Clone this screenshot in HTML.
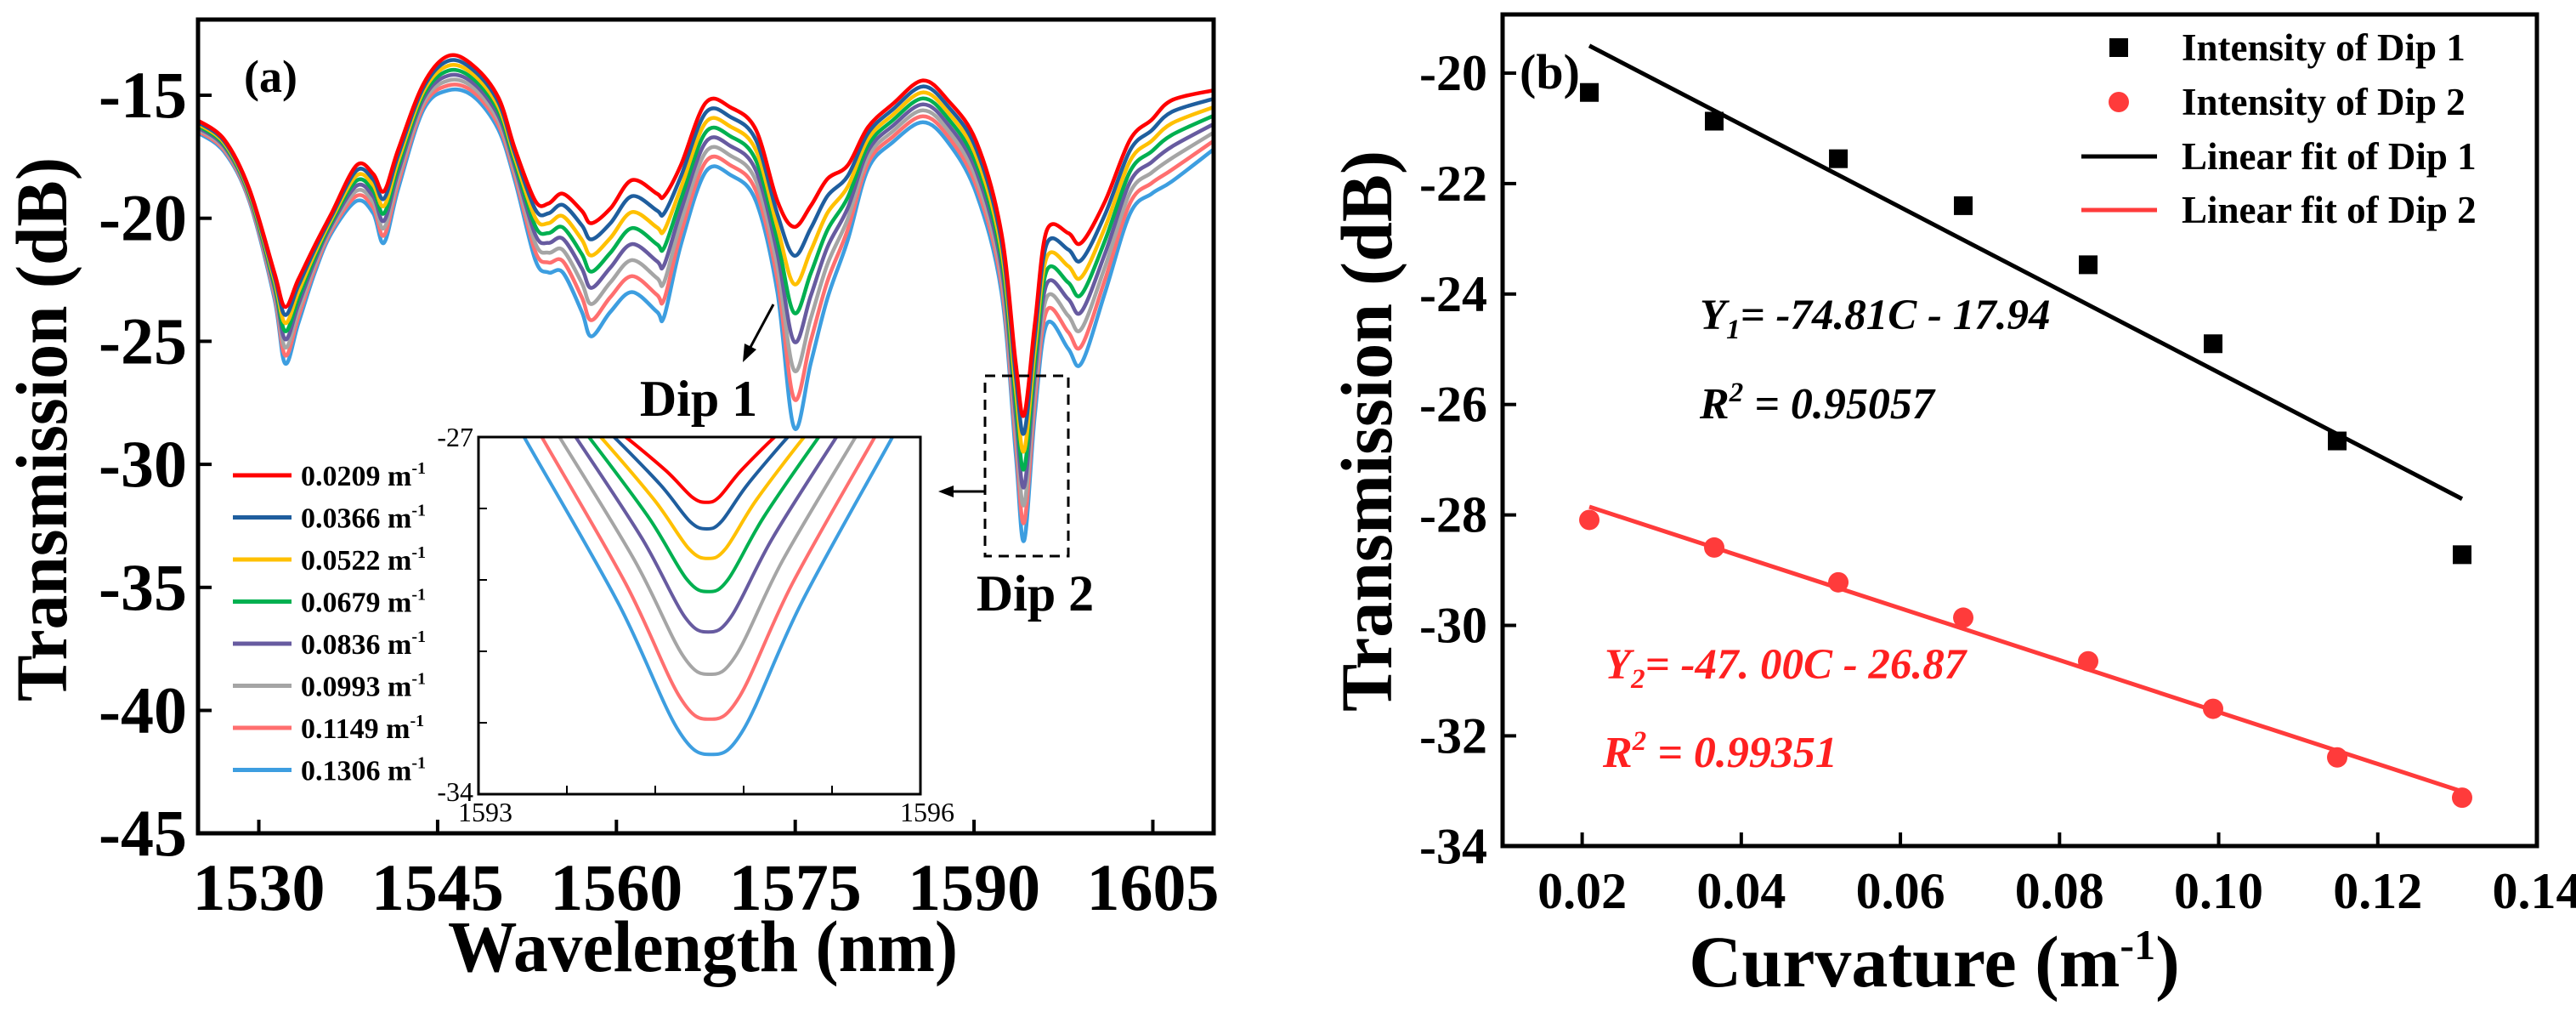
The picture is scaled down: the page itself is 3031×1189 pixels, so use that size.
<!DOCTYPE html>
<html><head><meta charset="utf-8"><title>Transmission spectra and curvature response</title>
<style>
html,body{margin:0;padding:0;background:#fff;}
svg{display:block;font-family:"Liberation Serif","DejaVu Serif",serif;}
</style></head>
<body>
<svg id="fig" width="3031" height="1189" viewBox="0 0 3031 1189" xmlns="http://www.w3.org/2000/svg">
<defs>
<clipPath id="clipA"><rect x="233" y="23" width="1195" height="957"/></clipPath>
<clipPath id="clipInset"><rect x="563" y="514" width="520" height="420"/></clipPath>
</defs>
<rect x="0" y="0" width="3031" height="1189" fill="#fff"/>
<g id="panelA"></g>
<g id="panelB"></g>
</svg>
<script>
// ---------- Panel (a) data ----------
const wavelengths = [1524.8,1527.1,1529.2,1531.3,1532.2,1533.3,1534.7,1536.1,1538.2,1539.6,1540.5,1541.7,1543.8,1545.9,1548.0,1550.1,1551.5,1553.2,1554.3,1555.5,1557.1,1557.9,1559.5,1561.3,1563.4,1564.0,1565.4,1567.5,1569.6,1571.7,1573.5,1574.9,1576.3,1577.7,1579.4,1581.1,1583.2,1585.7,1587.8,1590.2,1592.3,1593.5,1594.2,1595.1,1596.1,1597.9,1599.0,1601.0,1603.1,1604.9,1606.6,1610.1];
const spectrumLowest = [-16.0,-16.8,-18.8,-22.2,-23.6,-22.5,-21.1,-19.8,-17.85,-18.2,-18.9,-17.2,-14.55,-13.4,-13.8,-15.1,-17.2,-19.3,-19.4,-19.0,-19.7,-20.2,-19.6,-18.45,-19.0,-19.1,-17.85,-15.3,-15.5,-16.4,-19.3,-20.35,-19.5,-18.4,-17.85,-16.3,-15.35,-14.4,-15.2,-16.9,-20.6,-25.9,-28.0,-24.3,-20.5,-20.6,-21.0,-19.3,-16.8,-16.0,-15.2,-14.8];
const spectrumHighest = [-16.5,-17.3,-19.3,-23.25,-25.9,-24.3,-22.2,-20.6,-19.3,-19.8,-21.0,-18.8,-15.6,-14.8,-15.05,-16.4,-18.5,-21.7,-22.2,-22.2,-23.8,-24.8,-23.8,-23.0,-23.8,-24.0,-21.1,-18.1,-18.25,-19.3,-23.0,-28.5,-25.9,-23.25,-20.9,-18.0,-16.9,-16.1,-16.9,-19.0,-23.0,-29.6,-33.1,-28.0,-24.3,-25.3,-25.9,-23.0,-19.8,-19.0,-18.5,-17.2];
const curvatureLabels = ["0.0209","0.0366","0.0522","0.0679","0.0836","0.0993","0.1149","0.1306"];
const curvatures = [0.0209,0.0366,0.0522,0.0679,0.0836,0.0993,0.1149,0.1306];
const xTicksA = [1530,1545,1560,1575,1590,1605];
const yTicksA = [-15,-20,-25,-30,-35,-40,-45];
// inset data (dip 2 zoom)
const insetMin = [-28.28,-28.80,-29.38,-30.03,-30.82,-31.65,-32.53,-33.22];
const insetCenter = [1594.55,1594.55,1594.56,1594.56,1594.56,1594.57,1594.57,1594.58];
const insetLeftEdge = [1594.00,1593.92,1593.83,1593.75,1593.66,1593.55,1593.43,1593.31];
const insetRightEdge = [1595.01,1595.10,1595.21,1595.31,1595.43,1595.56,1595.69,1595.81];
// ---------- Panel (b) data ----------
const dip1 = [-20.35,-20.87,-21.55,-22.40,-23.47,-24.90,-26.66,-28.72];
const dip2 = [-28.09,-28.59,-29.22,-29.86,-30.65,-31.51,-32.39,-33.12];
const fit1 = [-74.81,-17.94];
const fit2 = [-47.00,-26.87];
const xTicksB = [0.02,0.04,0.06,0.08,0.10,0.12,0.14];
const yTicksB = [-20,-22,-24,-26,-28,-30,-32,-34];

const colors = ["#ff0000","#1f5e9e","#ffc000","#00b050","#675ba0","#a5a5a5","#ff6f6f","#3d9ee0"];
const NS="http://www.w3.org/2000/svg";
function mk(tag, attrs, parent, text){const e=document.createElementNS(NS,tag);for(const k in attrs)e.setAttribute(k,attrs[k]);if(text!==undefined)e.textContent=text;parent.appendChild(e);return e;}
function smooth(pts){let d="M"+pts[0][0].toFixed(1)+","+pts[0][1].toFixed(1);for(let i=0;i<pts.length-1;i++){const p0=pts[Math.max(0,i-1)],p1=pts[i],p2=pts[i+1],p3=pts[Math.min(pts.length-1,i+2)];const c1x=p1[0]+(p2[0]-p0[0])/6,c1y=p1[1]+(p2[1]-p0[1])/6,c2x=p2[0]-(p3[0]-p1[0])/6,c2y=p2[1]-(p3[1]-p1[1])/6;d+=" C"+c1x.toFixed(1)+","+c1y.toFixed(1)+" "+c2x.toFixed(1)+","+c2y.toFixed(1)+" "+p2[0].toFixed(1)+","+p2[1].toFixed(1);}return d;}

// ===== Panel A =====
const A=document.getElementById('panelA');
const axL=233,axR=1428,axT=23,axB=980;
const xA=w=>axL+(w-1524.9)/(1610.1-1524.9)*(axR-axL);
const yA=v=>112+(-15-v)/5*144.7;
const curvesG=mk('g',{'clip-path':'url(#clipA)'},A);


for(let s=curvatures.length-1;s>=0;s--){
  const f=(curvatures[s]-curvatures[0])/(curvatures[curvatures.length-1]-curvatures[0]);
  const pts=wavelengths.map((w,i)=>[xA(w),yA(spectrumLowest[i]+f*(spectrumHighest[i]-spectrumLowest[i]))]);
  const p=mk('path',{d:smooth(pts),fill:'none',stroke:colors[s],'stroke-width':4.5,'stroke-linejoin':'round'},curvesG);
  
  
}
const frameA=mk('rect',{x:axL,y:axT,width:axR-axL,height:axB-axT,fill:'none',stroke:'#000','stroke-width':5},A);


xTicksA.forEach(t=>{
  mk('line',{x1:xA(t),x2:xA(t),y1:axB,y2:axB-16,stroke:'#000','stroke-width':4},A);
  const tl=mk('text',{x:xA(t),y:1070,'font-size':78,'font-weight':'bold','text-anchor':'middle'},A,String(t));
  
  
});
yTicksA.forEach(t=>{
  mk('line',{x1:axL,x2:axL+16,y1:yA(t),y2:yA(t),stroke:'#000','stroke-width':4},A);
  const tl=mk('text',{x:220,y:yA(t)+26,'font-size':78,'font-weight':'bold','text-anchor':'end'},A,String(t));
  
  
});
const ytA=mk('text',{x:0,y:0,transform:'translate(78,505) rotate(-90)','font-size':86,'font-weight':'bold','text-anchor':'middle',textLength:640,lengthAdjust:'spacingAndGlyphs'},A,'Transmission (dB)');


const xtA=mk('text',{x:827,y:1142,'font-size':86,'font-weight':'bold','text-anchor':'middle',textLength:600,lengthAdjust:'spacingAndGlyphs'},A,'Wavelength (nm)');


const labA=mk('text',{x:287,y:108,'font-size':54,'font-weight':'bold'},A,'(a)');



// legend (a)
curvatureLabels.forEach((c,i)=>{
  const y=559+i*49.5;
  const g=mk('g',{},A);
  
  
  mk('line',{x1:274,x2:343,y1:y,y2:y,stroke:colors[i],'stroke-width':5},g);
  const t=mk('text',{x:354,y:y+12,'font-size':34,'font-weight':'bold'},g,c+' m');
  mk('tspan',{'font-size':20,dy:-14},t,'-1');
});

// Dip annotations
const arr1=mk('g',{},A);


mk('line',{x1:910,y1:358,x2:881,y2:412,stroke:'#000','stroke-width':3},arr1);
mk('polygon',{points:'874,426 876,404 890,411',fill:'#000'},arr1);
const d1=mk('text',{x:822,y:489,'font-size':60,'font-weight':'bold','text-anchor':'middle'},A,'Dip 1');


const d2=mk('text',{x:1218,y:718,'font-size':60,'font-weight':'bold','text-anchor':'middle'},A,'Dip 2');


const box=mk('rect',{x:1159,y:442,width:98,height:212,fill:'none',stroke:'#000','stroke-width':3,'stroke-dasharray':'12,8'},A);


const arr2=mk('g',{},A);


mk('line',{x1:1158,y1:578,x2:1118,y2:578,stroke:'#000','stroke-width':3},arr2);
mk('polygon',{points:'1104,578 1122,571 1122,585',fill:'#000'},arr2);

// inset
const IL=563,IR=1083,IT=514,IB=934;
const xI=w=>IL+(w-1593)/3*(IR-IL);
const yI=v=>IT+(-27-v)/7*(IB-IT);
const inset=mk('g',{},A);


mk('rect',{x:IL,y:IT,width:IR-IL,height:IB-IT,fill:'#fff'},inset);
const ic=mk('g',{'clip-path':'url(#clipInset)'},inset);
for(let s=0;s<insetMin.length;s++){
  const L=insetLeftEdge[s],R=insetRightEdge[s],C=insetCenter[s],m=insetMin[s];
  const dv=fr=>-27+fr*(m+27);
  const pts=[[L-0.05,dv(-0.05)],[L,dv(0)],[L+0.5*(C-L),dv(0.52)],[L+0.82*(C-L),dv(0.92)],[C,dv(1)],[C+0.18*(R-C),dv(0.92)],[C+0.5*(R-C),dv(0.52)],[R,dv(0)],[R+0.05,dv(-0.05)]].map(p=>[xI(p[0]),yI(p[1])]);
  const p=mk('path',{d:smooth(pts),fill:'none',stroke:colors[s],'stroke-width':4},ic);
  
  
}
mk('rect',{x:IL,y:IT,width:IR-IL,height:IB-IT,fill:'none',stroke:'#000','stroke-width':3},inset);
for(let k=1;k<5;k++){const x=IL+k*(IR-IL)/5;mk('line',{x1:x,x2:x,y1:IB,y2:IB-10,stroke:'#000','stroke-width':2},inset);}
for(let k=1;k<5;k++){const y=IT+k*(IB-IT)/5;mk('line',{x1:IL,x2:IL+10,y1:y,y2:y,stroke:'#000','stroke-width':2},inset);}
mk('text',{x:IL-6,y:IT+11,'font-size':32,'text-anchor':'end'},inset,'-27');
mk('text',{x:IL-6,y:IB+8,'font-size':32,'text-anchor':'end'},inset,'-34');
mk('text',{x:IL+8,y:IB+32,'font-size':32,'text-anchor':'middle'},inset,'1593');
mk('text',{x:IR+8,y:IB+32,'font-size':32,'text-anchor':'middle'},inset,'1596');

// ===== Panel B =====
const B=document.getElementById('panelB');
const bL=1768,bR=2985,bT=17,bB=995;
const xB=c=>bL+(c-0.01)/(0.14-0.01)*(bR-bL);
const yB=v=>86+(-20-v)/2*129.9;
const frameB=mk('rect',{x:bL,y:bT,width:bR-bL,height:bB-bT,fill:'none',stroke:'#000','stroke-width':5},B);


xTicksB.forEach(t=>{
  mk('line',{x1:xB(t),x2:xB(t),y1:bB,y2:bB-16,stroke:'#000','stroke-width':4},B);
  const tl=mk('text',{x:xB(t),y:1068,'font-size':60,'font-weight':'bold','text-anchor':'middle'},B,t.toFixed(2));
  
  
});
yTicksB.forEach(t=>{
  mk('line',{x1:bL,x2:bL+16,y1:yB(t),y2:yB(t),stroke:'#000','stroke-width':4},B);
  const tl=mk('text',{x:1750,y:yB(t)+20,'font-size':60,'font-weight':'bold','text-anchor':'end'},B,String(t));
  
  
});
const ytB=mk('text',{x:0,y:0,transform:'translate(1637,507) rotate(-90)','font-size':86,'font-weight':'bold','text-anchor':'middle',textLength:660,lengthAdjust:'spacingAndGlyphs'},B,'Transmission (dB)');


const xtB=mk('text',{x:2276,y:1160,'font-size':86,'font-weight':'bold','text-anchor':'middle'},B,'Curvature (m');
mk('tspan',{'font-size':50,dy:-32},xtB,'-1');
mk('tspan',{dy:32},xtB,')');


const labB=mk('text',{x:1788,y:104,'font-size':58,'font-weight':'bold'},B,'(b)');



const c0=curvatures[0],c1=curvatures[curvatures.length-1];
const f1=mk('line',{x1:xB(c0),y1:yB(fit1[0]*c0+fit1[1]),x2:xB(c1),y2:yB(fit1[0]*c1+fit1[1]),stroke:'#000','stroke-width':5},B);


const f2=mk('line',{x1:xB(c0),y1:yB(fit2[0]*c0+fit2[1]),x2:xB(c1),y2:yB(fit2[0]*c1+fit2[1]),stroke:'#ff3b3b','stroke-width':5},B);


curvatures.forEach((c,i)=>{
  const sq=mk('rect',{x:xB(c)-11,y:yB(dip1[i])-11,width:22,height:22,fill:'#000'},B);
  
  
  const ci=mk('circle',{cx:xB(c),cy:yB(dip2[i]),r:12,fill:'#ff3b3b'},B);
  
  
});

// equations
function eq(x,y,sym,sub,rest,fill,name){
  const t=mk('text',{x:x,y:y,'font-size':51,'font-weight':'bold','font-style':'italic',fill:fill},B,sym);
  mk('tspan',{'font-size':33,dy:11},t,sub);
  mk('tspan',{dy:-11},t,rest);
  
  
}
function r2(x,y,val,fill,name){
  const t=mk('text',{x:x,y:y,'font-size':52,'font-weight':'bold','font-style':'italic',fill:fill},B,'R');
  mk('tspan',{'font-size':33,dy:-20},t,'2');
  mk('tspan',{dy:20},t,' = '+val);
  
  
}
eq(2000,387,'Y','1','= -74.81C - 17.94','#000','equation-dip1');
r2(2000,492,'0.95057','#000','r-squared-dip1');
eq(1888,798,'Y','2','= -47. 00C - 26.87','#ff2020','equation-dip2');
r2(1886,902,'0.99351','#ff2020','r-squared-dip2');

// legend (b)
const lg=[['sq','Intensity of Dip 1',56],['ci','Intensity of Dip 2',120],['l1','Linear fit of Dip 1',184],['l2','Linear fit of Dip 2',247]];
lg.forEach(e=>{
  const g=mk('g',{},B);
  
  
  const y=e[2];
  if(e[0]==='sq')mk('rect',{x:2482,y:y-11,width:22,height:22,fill:'#000'},g);
  if(e[0]==='ci')mk('circle',{cx:2493,cy:y,r:12,fill:'#ff3b3b'},g);
  if(e[0]==='l1')mk('line',{x1:2449,x2:2538,y1:y,y2:y,stroke:'#000','stroke-width':5},g);
  if(e[0]==='l2')mk('line',{x1:2449,x2:2538,y1:y,y2:y,stroke:'#ff3b3b','stroke-width':5},g);
  mk('text',{x:2567,y:y+15,'font-size':45,'font-weight':'bold'},g,e[1]);
});
</script>
</body></html>
